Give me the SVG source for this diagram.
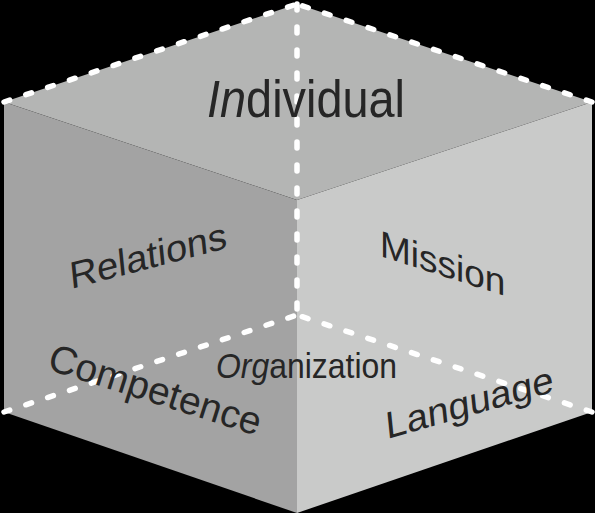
<svg xmlns="http://www.w3.org/2000/svg" width="595" height="513" viewBox="0 0 595 513">
  <style>
    .lbl { font-family: "Liberation Sans", Arial, sans-serif; fill: #262626; }
    .edge { stroke: #ffffff; stroke-width: 5.5; stroke-linecap: round; stroke-dasharray: 6 17; fill: none; }
  </style>
  <rect x="0" y="0" width="595" height="513" fill="#000000"/>
  <g id="cube">
    <polygon id="face-top" points="297,4 592,102 297,200 4,102" fill="#b4b5b4"/>
    <polygon id="face-left" points="4,102 297,200 297,513 4,412" fill="#a3a3a3"/>
    <polygon id="face-right" points="297,200 592,102 592,412 297,513" fill="#c9cac9"/>
  </g>
  <g id="connectors">
    <line class="edge" x1="4" y1="102" x2="297" y2="4"/>
    <line class="edge" x1="592" y1="102" x2="297" y2="4"/>
    <line class="edge" x1="297" y1="4" x2="297" y2="315"/>
    <line class="edge" x1="4" y1="412" x2="297" y2="315"/>
    <line class="edge" x1="592" y1="412" x2="297" y2="315"/>
  </g>
  <g id="individual">
    <text class="lbl" x="306" y="117" font-size="51" text-anchor="middle" textLength="198" lengthAdjust="spacingAndGlyphs"><tspan font-style="italic">In</tspan>dividual</text>
  </g>
  <g id="relations">
    <text class="lbl" font-size="38" transform="matrix(0.99,-0.26,0.1,0.98,71,289)">Relations</text>
  </g>
  <g id="mission">
    <text class="lbl" font-size="37" transform="matrix(1,0.32,0,1,380,256)">Mission</text>
  </g>
  <g id="competence">
    <text class="lbl" font-size="39" transform="translate(46,369) rotate(17.6)">Competence</text>
  </g>
  <g id="organization">
    <text class="lbl" x="216" y="378" font-size="35" textLength="181" lengthAdjust="spacingAndGlyphs"><tspan font-style="italic">Org</tspan>anization</text>
  </g>
  <g id="language">
    <text class="lbl" font-size="38" transform="matrix(0.99,-0.28,0.1,0.98,387,439)">Language</text>
  </g>
</svg>
